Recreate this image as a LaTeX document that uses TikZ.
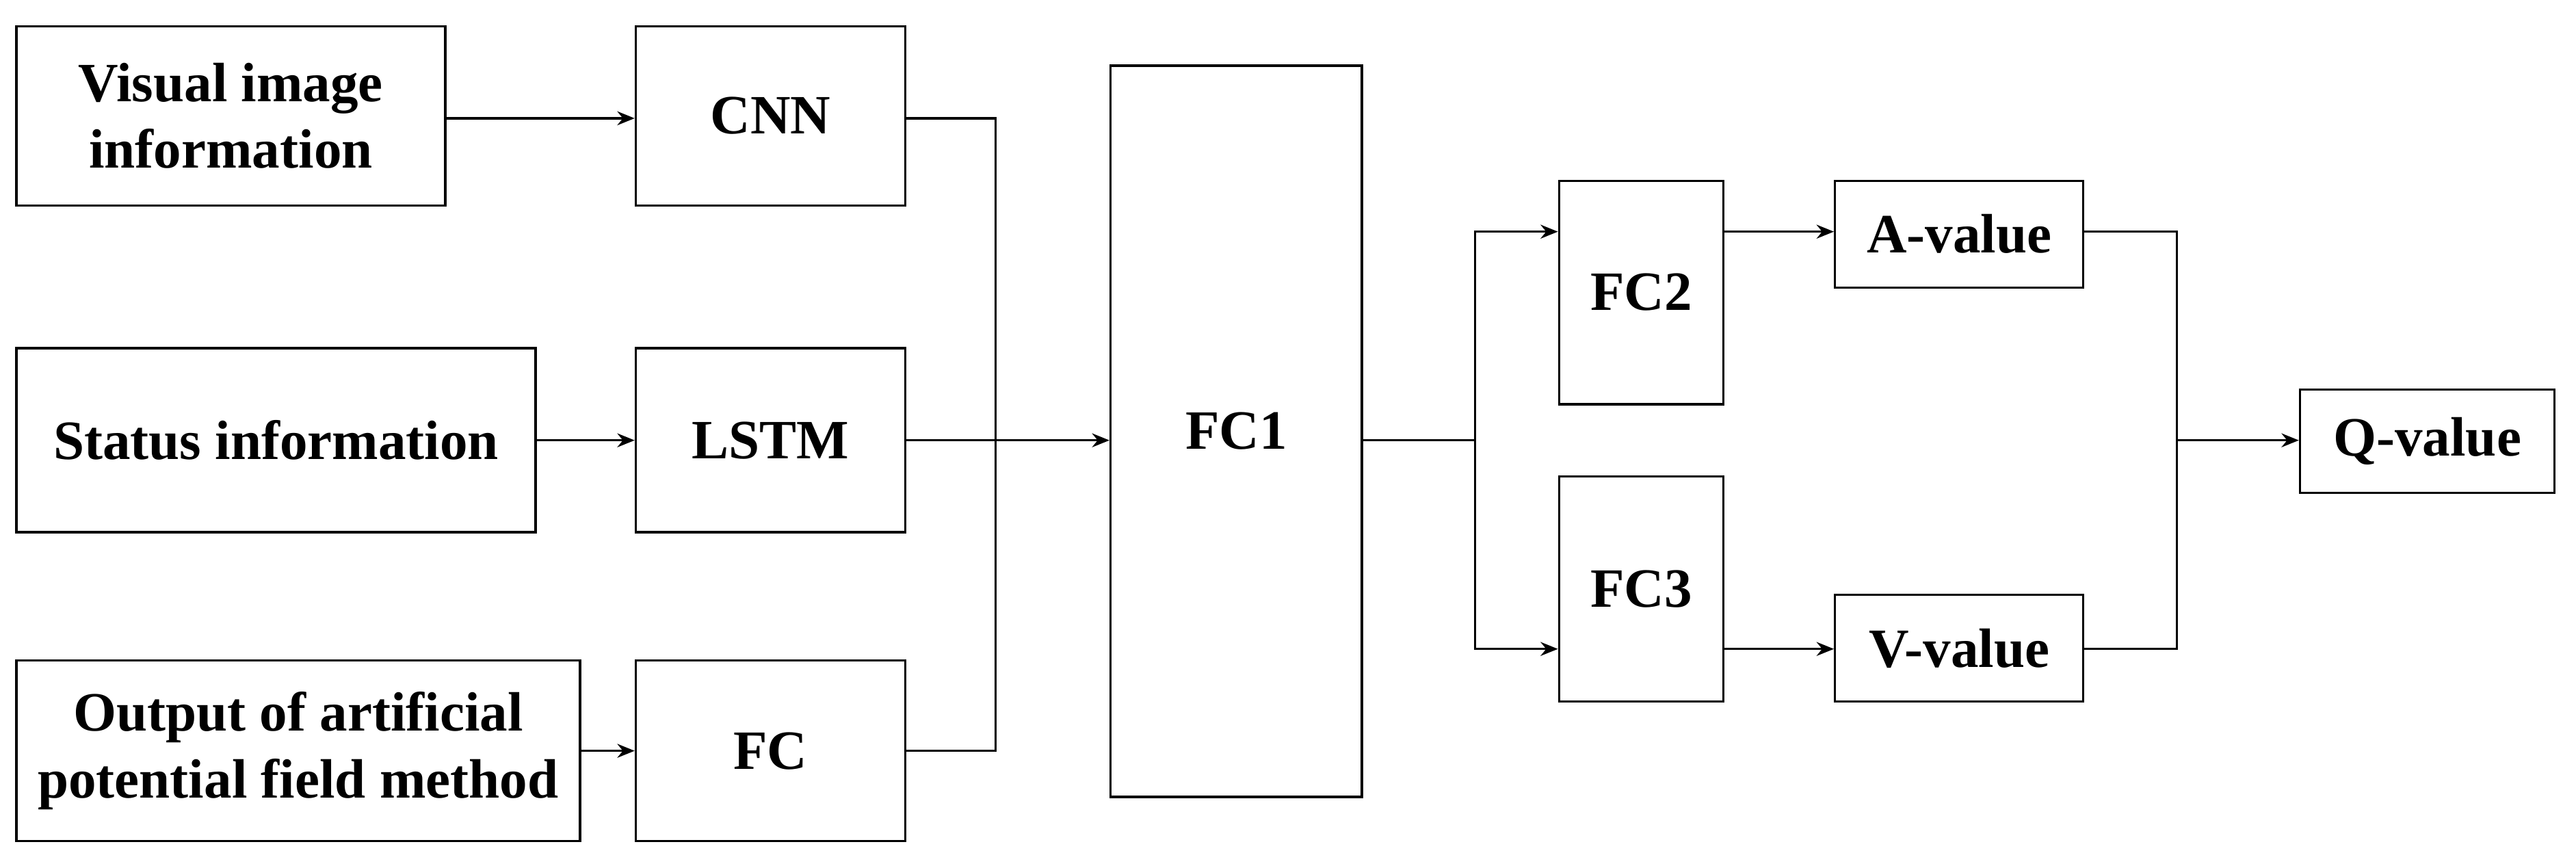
\documentclass[tikz,border=0pt]{standalone}
\usepackage{fontspec}
\setmainfont{Liberation Serif}
\usetikzlibrary{arrows.meta}
\begin{document}
\begin{tikzpicture}[x=0.01cm,y=-0.01cm,
  box/.style={draw,line width=0.4pt,align=center,font=\fontsize{9.6}{11.5}\selectfont\bfseries},
  ln/.style={line width=0.4pt},
  ar/.style={ln,-{Stealth[length=3pt,width=2.4pt]}}]
\useasboundingbox (0,0) rectangle (1568,527);
\newcommand\bx[6]{\node[box,minimum width=(#4-#2)*0.01cm,minimum height=(#5-#3)*0.01cm,inner sep=0pt] (#1) at ({(#2+#4)/2},{(#3+#5)/2}) {#6};}
\bx{vis}{10}{16}{271}{125}{Visual image\\information}
\bx{cnn}{387}{16}{551}{125}{CNN}
\bx{sta}{10}{212}{326}{324}{Status information}
\bx{lstm}{387}{212}{551}{324}{LSTM}
\bx{out}{10}{402}{353}{512}{Output of artificial\\potential field method}
\bx{fc}{387}{402}{551}{512}{FC}
\bx{fc1}{676}{40}{829}{485}{FC1}
\bx{fc2}{949}{110}{1049}{246}{FC2}
\bx{fc3}{949}{290}{1049}{427}{FC3}
\bx{av}{1117}{110}{1268}{175}{A-value}
\bx{vv}{1117}{362}{1268}{427}{V-value}
\bx{qv}{1400}{237}{1555}{300}{Q-value}
\coordinate (j1) at (606,268);
\coordinate (j2) at (898,268);
\coordinate (j3) at (1325,268);
\draw[ar] (vis.east|-0,72) -- (cnn.west|-0,72);
\draw[ar] (sta.east|-0,268) -- (lstm.west|-0,268);
\draw[ar] (out.east|-0,457) -- (fc.west|-0,457);
\draw[ln] (cnn.east|-0,72) -| (j1) |- (fc.east|-0,457);
\draw[ln] (lstm.east|-0,268) -- (j1);
\draw[ar] (j1) -- (fc1.west|-j1);
\draw[ln] (fc1.east|-j2) -- (j2);
\draw[ar] (j2) |- (fc2.west|-0,141);
\draw[ar] (j2) |- (fc3.west|-0,395);
\draw[ar] (fc2.east|-0,141) -- (av.west|-0,141);
\draw[ar] (fc3.east|-0,395) -- (vv.west|-0,395);
\draw[ln] (av.east|-0,141) -| (j3) |- (vv.east|-0,395);
\draw[ar] (j3) -- (qv.west|-j3);
\end{tikzpicture}
\end{document}
